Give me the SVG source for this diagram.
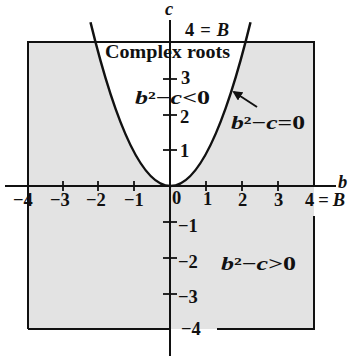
<svg xmlns="http://www.w3.org/2000/svg" width="348" height="356" viewBox="0 0 348 356">
<style>
text{font-family:"Liberation Serif","Times New Roman",serif;font-weight:bold;font-size:18.5px;fill:#111}
.i{font-style:italic}
.ln{stroke:#111;stroke-width:2;fill:none}
.tk{stroke:#111;stroke-width:1.8}
</style>
<defs>
<marker id="ah" viewBox="0 0 10 10" refX="8" refY="5" markerWidth="5" markerHeight="5" orient="auto"><path d="M0,0 L10,5 L0,10 Z" fill="#111"/></marker>
</defs>
<rect width="348" height="356" fill="#fff"/>
<g id="region">
<path d="M28,42 H314 V329 H28 Z M95.5,42 Q170.5,330 245.5,42 Z" fill="#e3e3e3" fill-rule="evenodd"/>
<path class="ln" d="M28,329 V42 H314 V186"/>
<path class="ln" d="M314,216 V329 H217"/>
<path class="ln" d="M28,329 H170"/>
</g>
<g id="axes">
<line class="ln" x1="5" y1="186" x2="336" y2="186"/>
<line class="ln" x1="170" y1="20" x2="170" y2="356"/>
<g class="tk">
<line x1="63" y1="181" x2="63" y2="191"/>
<line x1="98" y1="181" x2="98" y2="191"/>
<line x1="134" y1="181" x2="134" y2="191"/>
<line x1="206" y1="181" x2="206" y2="191"/>
<line x1="242" y1="181" x2="242" y2="191"/>
<line x1="278" y1="181" x2="278" y2="191"/>
<line x1="163" y1="79" x2="177" y2="79"/>
<line x1="163" y1="115" x2="177" y2="115"/>
<line x1="163" y1="150" x2="177" y2="150"/>
<line x1="163" y1="222" x2="177" y2="222"/>
<line x1="163" y1="258" x2="177" y2="258"/>
<line x1="163" y1="294" x2="177" y2="294"/>
</g>
</g>
<g id="parabola">
<path d="M90.5,22.2 Q170.5,349.8 250.5,22.2" stroke="#111" stroke-width="2.5" fill="none"/>
</g>
<g id="connectors">
<line x1="257" y1="107" x2="234" y2="92" stroke="#111" stroke-width="2" marker-end="url(#ah)"/>
</g>
<g id="labels">
<text class="i" x="165" y="15">c</text>
<text x="185" y="36" textLength="44" lengthAdjust="spacing">4 = <tspan class="i">B</tspan></text>
<text x="105" y="58" textLength="125" lengthAdjust="spacingAndGlyphs">Complex roots</text>
<text x="181" y="84">3</text>
<text x="135" y="103.5" font-size="17" textLength="75" lengthAdjust="spacingAndGlyphs"><tspan class="i">b</tspan>²−<tspan class="i">c</tspan>&lt;0</text>
<text x="180" y="123">2</text>
<text x="180" y="157">1</text>
<text x="231" y="129" textLength="74" lengthAdjust="spacingAndGlyphs"><tspan class="i">b</tspan>²−<tspan class="i">c</tspan>=0</text>
<text class="i" x="338" y="188">b</text>
<text x="13" y="206">−4</text>
<text x="50" y="206">−3</text>
<text x="86" y="206">−2</text>
<text x="124" y="206">−1</text>
<text x="172" y="204">0</text>
<text x="203" y="205">1</text>
<text x="238" y="206">2</text>
<text x="274" y="206">3</text>
<text x="305" y="206" textLength="40" lengthAdjust="spacing">4 = <tspan class="i">B</tspan></text>
<text x="178" y="232">−1</text>
<text x="178" y="268">−2</text>
<text x="221" y="270" textLength="75" lengthAdjust="spacingAndGlyphs"><tspan class="i">b</tspan>²−<tspan class="i">c</tspan>&gt;0</text>
<text x="178" y="303">−3</text>
<text x="181" y="335">−4</text>
</g>
</svg>
